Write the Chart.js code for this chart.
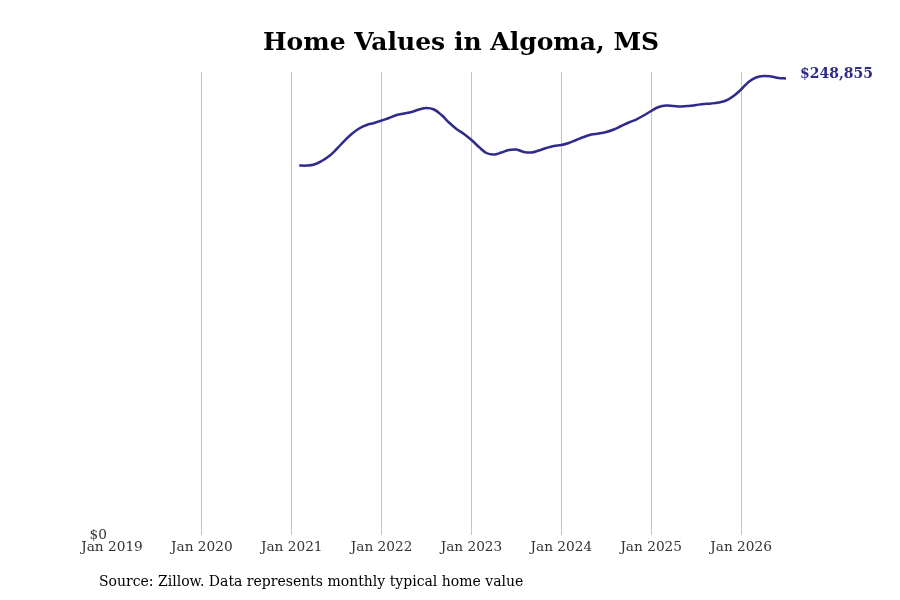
<!DOCTYPE html>
<html>
<head>
<meta charset="utf-8">
<script src="https://cdn.jsdelivr.net/npm/chart.js@4/dist/chart.umd.min.js"></script>
<style>
  html, body { margin: 0; padding: 0; background: #fff; }
  #wrap { width: 900px; height: 600px; }
</style>
</head>
<body>
<div id="wrap"><canvas id="homeChart" width="900" height="600"></canvas></div>
<script>
/* ── Data ── */
const START_YEAR = 2019;
const months = [
  '2021-02','2021-03','2021-04','2021-05','2021-06','2021-07','2021-08','2021-09','2021-10','2021-11','2021-12',
  '2022-01','2022-02','2022-03','2022-04','2022-05','2022-06','2022-07','2022-08','2022-09','2022-10','2022-11','2022-12',
  '2023-01','2023-02','2023-03','2023-04','2023-05','2023-06','2023-07','2023-08','2023-09','2023-10','2023-11','2023-12',
  '2024-01','2024-02','2024-03','2024-04','2024-05','2024-06','2024-07','2024-08','2024-09','2024-10','2024-11','2024-12',
  '2025-01','2025-02','2025-03','2025-04','2025-05','2025-06','2025-07','2025-08','2025-09','2025-10','2025-11','2025-12',
  '2026-01','2026-02','2026-03','2026-04','2026-05','2026-06','2026-07'
];
const values = [
  201400, 201400, 201970, 203880, 206610, 210420, 214780, 218600, 221600, 223510, 224600,
  225960, 227320, 228960, 229780, 230590, 231960, 232770, 231960, 228960, 224870, 221330, 218600,
  215330, 211510, 208240, 207420, 208510, 209880, 210150, 208790, 208510, 209610, 210970, 212060,
  212600, 213690, 215330, 216960, 218330, 218870, 219690, 221060, 222960, 224870, 226500, 228690,
  231140, 233320, 234140, 233860, 233590, 233860, 234410, 234950, 235230, 235770, 236860, 239310,
  242860, 246950, 249400, 250220, 249950, 249130, 248855
];
const yearTicks = ['Jan 2019','Jan 2020','Jan 2021','Jan 2022','Jan 2023','Jan 2024','Jan 2025','Jan 2026'];

const TITLE  = 'Home Values in Algoma, MS';
const SOURCE = 'Source: Zillow. Data represents monthly typical home value';

const LINE   = '#2f2b8a';
const GRID   = '#c4c4c4';
const TICK   = '#333333';
const SERIF  = "'DejaVu Serif', serif";

const monthIndex = s => {
  const [y, m] = s.split('-').map(Number);
  return (y - START_YEAR) * 12 + (m - 1);
};
const points = months.map((m, i) => ({ x: monthIndex(m), y: values[i] }));
const lastIdx = points.length - 1;

/* ── Texts drawn on the canvas ── */
const textPlugin = {
  id: 'texts',
  afterDraw(chart) {
    const ctx = chart.ctx;
    ctx.save();
    ctx.fillStyle = '#000';
    ctx.font = `bold 25px ${SERIF}`;
    ctx.textAlign = 'center';
    ctx.textBaseline = 'middle';
    ctx.fillText(TITLE, 461, 43);

    ctx.font = `14px ${SERIF}`;
    ctx.textAlign = 'left';
    ctx.fillText(SOURCE, 99, 582);

    const meta = chart.getDatasetMeta(0).data[lastIdx];
    ctx.fillStyle = LINE;
    ctx.font = `bold 14px ${SERIF}`;
    ctx.fillText('$' + values[lastIdx].toLocaleString('en-US'), meta.x + 14, meta.y - 4);
    ctx.restore();
  }
};

new Chart(document.getElementById('homeChart'), {
  type: 'line',
  data: {
    datasets: [{
      data: points,
      borderColor: LINE,
      borderWidth: 2.5,
      pointRadius: 0,
      fill: false,
      tension: 0.4
    }]
  },
  options: {
    responsive: false,
    animation: false,
    layout: { padding: { top: 72, right: 114, bottom: 0, left: 0 } },
    plugins: { legend: { display: false }, tooltip: { enabled: false } },
    scales: {
      x: {
        type: 'linear',
        min: 0,
        max: monthIndex(months[lastIdx]),
        afterBuildTicks: s => {
          s.ticks = yearTicks.map((t, i) => ({ value: i * 12 }));
        },
        afterFit: s => { s.height = 65; },
        border: { display: false },
        grid: {
          drawTicks: false,
          color: c => (c.tick && c.tick.value === 0) ? 'rgba(0,0,0,0)' : GRID
        },
        ticks: {
          padding: 4,
          maxRotation: 0,
          color: TICK,
          font: { family: SERIF, size: 13.7 },
          callback: v => yearTicks[v / 12]
        }
      },
      y: {
        min: 0,
        max: 252400,
        afterBuildTicks: s => { s.ticks = [{ value: 0 }]; },
        afterFit: s => { s.width = 112; },
        border: { display: false },
        grid: { display: false, drawTicks: false, tickLength: 0 },
        ticks: {
          padding: 5,
          color: TICK,
          font: { family: SERIF, size: 13.7 },
          callback: v => '$' + v
        }
      }
    }
  },
  plugins: [textPlugin]
});
</script>
</body>
</html>
